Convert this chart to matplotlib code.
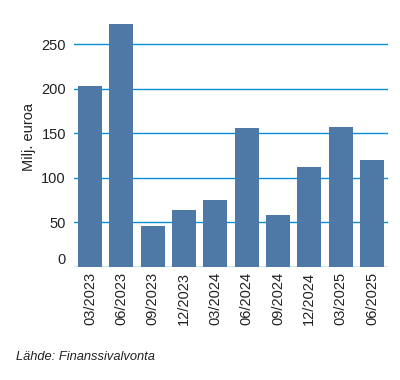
import matplotlib
matplotlib.use("Agg")
import matplotlib.pyplot as plt

categories = ["03/2023", "06/2023", "09/2023", "12/2023", "03/2024",
              "06/2024", "09/2024", "12/2024", "03/2025", "06/2025"]
values = [203, 272.5, 45.5, 63.5, 75, 156, 58, 112, 157, 120]
yticks = [0, 50, 100, 150, 200, 250]

plt.rcParams['font.family'] = ['Liberation Sans', 'DejaVu Sans']

fig = plt.figure(figsize=(4.0, 3.8), dpi=100)
ax = fig.add_axes([74.3/400, 1-266.5/380, (387.7-74.3)/400, (266.5-15)/380])

x = range(len(categories))
ax.bar(x, values, width=0.77, color="#4E78A6", zorder=2)
ax.set_xlim(-0.5, len(categories)-0.5)
ax.set_ylim(0, (266.5-15)/0.89)
ax.set_yticks(yticks)
ax.set_yticklabels([str(v) for v in yticks], fontsize=10.5, color="#222222")
for lbl in ax.get_yticklabels():
    if lbl.get_text() == "0":
        lbl.set_verticalalignment("bottom")
ax.yaxis.grid(True, color="#0A8FD6", linewidth=1.0, zorder=1)
ax.set_xticks(list(x))
ax.set_xticklabels(categories, rotation=90, fontsize=10.5, color="#222222")
ax.tick_params(axis='y', length=0, pad=6)
ax.tick_params(axis='x', length=0, pad=4)
for s in ax.spines.values():
    s.set_visible(False)
ax.set_ylabel("Milj. euroa", fontsize=10.5, color="#222222")
ax.yaxis.set_label_coords(-(74.3-36)/(387.7-74.3), 1-(137-15)/(266.5-15))

fig.text(16/400, 1-357/380, "Lähde: Finanssivalvonta", fontsize=9.3, style="italic",
         color="#222222", va="center", ha="left")

fig.savefig("out.png", dpi=100)
